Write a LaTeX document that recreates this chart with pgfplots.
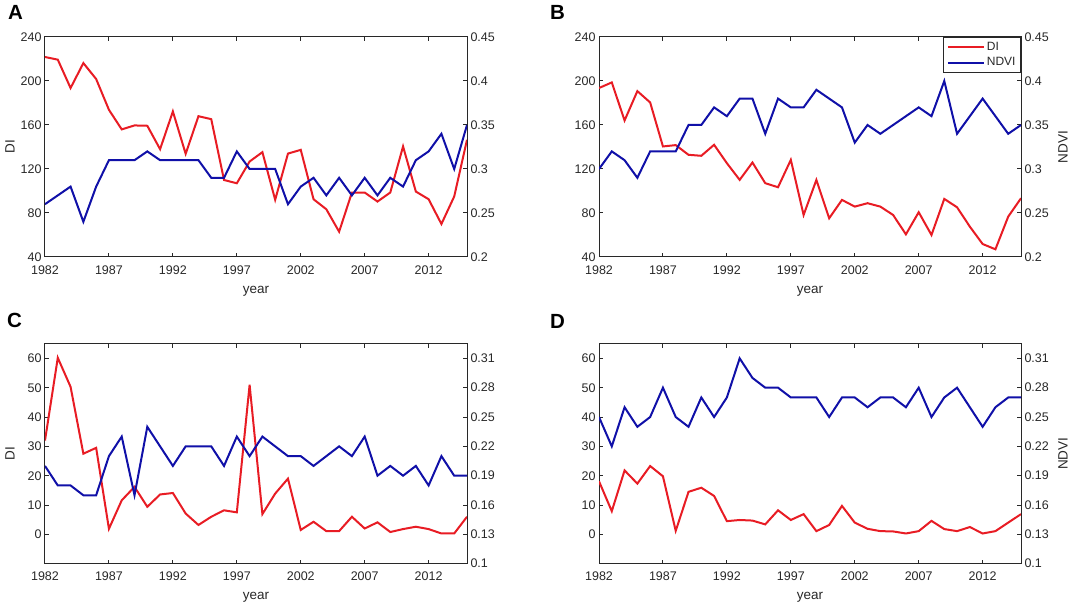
\documentclass[border=0pt]{standalone}
\usepackage{fontspec}
\setmainfont{Liberation Sans}
\usepackage{pgfplots}
\usepackage{pgfplotstable}
\pgfplotsset{compat=1.18}
\definecolor{dired}{RGB}{232,28,36}
\definecolor{ndviblue}{RGB}{16,16,168}
\definecolor{axgray}{RGB}{40,40,40}

\pgfplotstableread{
year di ndvi
1982 221.8 0.26
1983 219.4 0.27
1984 193.6 0.28
1985 216.3 0.24
1986 201.8 0.28
1987 173.8 0.31
1988 156.0 0.31
1989 159.6 0.31
1990 159.3 0.32
1991 138.0 0.31
1992 172.3 0.31
1993 133.8 0.31
1994 168.0 0.31
1995 165.3 0.29
1996 110.0 0.29
1997 107.0 0.32
1998 126.8 0.30
1999 135.3 0.30
2000 92.0 0.30
2001 134.0 0.26
2002 137.4 0.28
2003 92.5 0.29
2004 83.4 0.27
2005 63.0 0.29
2006 98.6 0.27
2007 98.6 0.29
2008 90.4 0.27
2009 98.6 0.29
2010 140.5 0.28
2011 99.5 0.31
2012 92.5 0.32
2013 70.0 0.34
2014 95.0 0.30
2015 146.5 0.35
}\dataA

\pgfplotstableread{
year di ndvi
1982 193.6 0.30
1983 198.7 0.32
1984 164.1 0.31
1985 190.8 0.29
1986 180.5 0.32
1987 140.5 0.32
1988 141.7 0.32
1989 132.9 0.35
1990 132.0 0.35
1991 142.0 0.37
1992 125.3 0.36
1993 110.1 0.38
1994 125.9 0.38
1995 107.1 0.34
1996 103.4 0.38
1997 128.3 0.37
1998 78.2 0.37
1999 110.1 0.39
2000 75.2 0.38
2001 91.9 0.37
2002 85.8 0.33
2003 88.9 0.35
2004 85.8 0.34
2005 78.2 0.35
2006 60.6 0.36
2007 80.7 0.37
2008 60.0 0.36
2009 92.8 0.40
2010 85.2 0.34
2011 67.6 0.36
2012 51.8 0.38
2013 47.0 0.36
2014 76.7 0.34
2015 93.4 0.35
}\dataB

\pgfplotstableread{
year di ndvi
1982 32.0 0.20
1983 60.2 0.18
1984 50.3 0.18
1985 27.5 0.17
1986 29.5 0.17
1987 1.9 0.21
1988 11.6 0.23
1989 16.2 0.17
1990 9.4 0.24
1991 13.6 0.22
1992 14.1 0.20
1993 7.1 0.22
1994 3.2 0.22
1995 6.0 0.22
1996 8.2 0.20
1997 7.5 0.23
1998 51.0 0.21
1999 6.9 0.23
2000 13.9 0.22
2001 19.0 0.21
2002 1.5 0.21
2003 4.3 0.20
2004 1.1 0.21
2005 1.1 0.22
2006 6.0 0.21
2007 2.0 0.23
2008 4.1 0.19
2009 0.8 0.20
2010 1.8 0.19
2011 2.6 0.20
2012 1.8 0.18
2013 0.3 0.21
2014 0.3 0.19
2015 6.0 0.19
}\dataC

\pgfplotstableread{
year di ndvi
1982 18.1 0.25
1983 7.9 0.22
1984 21.8 0.26
1985 17.3 0.24
1986 23.3 0.25
1987 19.8 0.28
1988 1.2 0.25
1989 14.5 0.24
1990 15.9 0.27
1991 13.1 0.25
1992 4.5 0.27
1993 4.9 0.31
1994 4.7 0.29
1995 3.4 0.28
1996 8.2 0.28
1997 4.9 0.27
1998 6.9 0.27
1999 1.1 0.27
2000 3.2 0.25
2001 9.7 0.27
2002 4.0 0.27
2003 1.9 0.26
2004 1.1 0.27
2005 1.0 0.27
2006 0.3 0.26
2007 1.1 0.28
2008 4.6 0.25
2009 1.8 0.27
2010 1.1 0.28
2011 2.5 0.26
2012 0.3 0.24
2013 1.1 0.26
2014 4.0 0.27
2015 6.9 0.27
}\dataD

\pgfplotsset{
  basepanel/.style={
    scale only axis, width=422pt, height=220pt,
    anchor=south west,
    xmin=1982, xmax=2015,
    xtick={1982,1987,1992,1997,2002,2007,2012},
    /pgf/number format/assume math mode=true,
    /pgf/number format/1000 sep={},
    scaled ticks=false,
    major tick length=4pt,
    axis line style={line width=1pt, color=axgray},
    tick style={line width=1pt, color=axgray},
    tick label style={font=\fontsize{12.5}{14}\selectfont, text=axgray},
    label style={font=\fontsize{13.5}{15}\selectfont, text=axgray},
  },
  laxis/.style={basepanel, tick align=inside, ytick pos=left, xtick pos=both, xlabel={year},
    xticklabel style={yshift=-5pt},
    xlabel style={at={(axis description cs:0.5,0)}, anchor=center, yshift=-34pt},
    ylabel style={at={(axis description cs:-0.083,0.5)}, anchor=center}},
  raxis/.style={basepanel, axis x line=none, axis y line*=right, tick align=inside,
    ytick pos=right, yticklabel pos=right,
    ylabel style={font=\fontsize{13.5}{15}\selectfont, text=axgray,
      at={(axis description cs:1.0995,0.5)}, anchor=center},
    /pgf/number format/fixed, /pgf/number format/precision=2},
  dil/.style={color=dired, line width=2pt},
  ndl/.style={color=ndviblue, line width=2pt},
  diax/.style={ymin=40, ymax=240, ytick={40,80,120,160,200,240}},
  ndax/.style={ymin=0.2, ymax=0.45, ytick={0.2,0.25,0.3,0.35,0.4,0.45}},
  dicd/.style={ymin=-10, ymax=65, ytick={0,10,20,30,40,50,60}},
  ndcd/.style={ymin=0.1, ymax=0.325, ytick={0.1,0.13,0.16,0.19,0.22,0.25,0.28,0.31}},
}

\begin{document}
\begin{tikzpicture}
\useasboundingbox (0,0) rectangle (1072pt,607pt);

% Panel A
\begin{axis}[laxis, diax, at={(45pt,350pt)}, ylabel={DI}]
\addplot[dil] table[x=year, y=di] {\dataA};
\end{axis}
\begin{axis}[raxis, ndax, at={(45pt,350pt)}]
\addplot[ndl] table[x=year, y=ndvi] {\dataA};
\end{axis}

% Panel B
\begin{axis}[laxis, diax, at={(599pt,350pt)}]
\addplot[dil] table[x=year, y=di] {\dataB};
\end{axis}
\begin{axis}[raxis, ndax, at={(599pt,350pt)}, ylabel={NDVI},
  legend style={at={(1,1)}, anchor=north east, draw=axgray, line width=0.9pt,
    font=\fontsize{12}{13}\selectfont, text=axgray, inner xsep=3pt, inner ysep=3pt, row sep=1.5pt},
  legend cell align=left,
  legend image code/.code={\draw[#1] (0pt,0pt) -- (36pt,0pt);}]
\addlegendimage{dil}
\addlegendentry{DI}
\addplot[ndl] table[x=year, y=ndvi] {\dataB};
\addlegendentry{NDVI}
\end{axis}

% Panel C
\begin{axis}[laxis, dicd, at={(45pt,43.3pt)}, ylabel={DI}]
\addplot[dil] table[x=year, y=di] {\dataC};
\end{axis}
\begin{axis}[raxis, ndcd, at={(45pt,43.3pt)}]
\addplot[ndl] table[x=year, y=ndvi] {\dataC};
\end{axis}

% Panel D
\begin{axis}[laxis, dicd, at={(599pt,43.3pt)}]
\addplot[dil] table[x=year, y=di] {\dataD};
\end{axis}
\begin{axis}[raxis, ndcd, at={(599pt,43.3pt)}, ylabel={NDVI}]
\addplot[ndl] table[x=year, y=ndvi] {\dataD};
\end{axis}

\node[font=\bfseries\fontsize{20.5}{21}\selectfont, text=black] at (15.5pt,594.5pt) {A};
\node[font=\bfseries\fontsize{20.5}{21}\selectfont, text=black] at (557.5pt,595pt) {B};
\node[font=\bfseries\fontsize{20.5}{21}\selectfont, text=black] at (14.5pt,286.5pt) {C};
\node[font=\bfseries\fontsize{20.5}{21}\selectfont, text=black] at (557.5pt,286pt) {D};
\end{tikzpicture}
\end{document}
